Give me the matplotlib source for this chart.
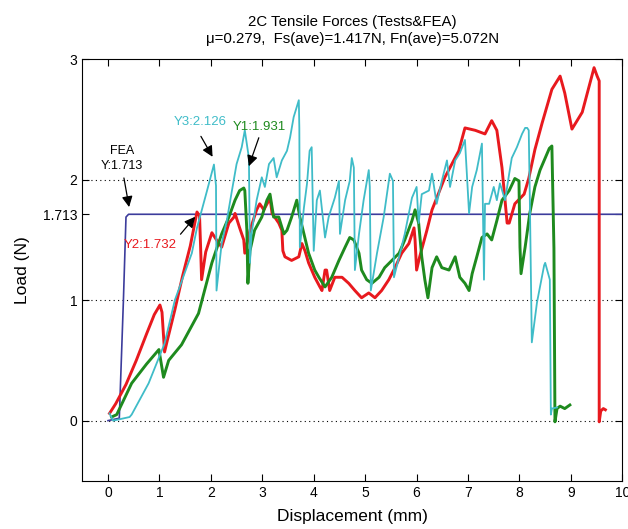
import matplotlib.pyplot as plt

plt.rcParams['font.family'] = ['Liberation Sans', 'DejaVu Sans']

# FEA prediction
fea_x = [0.0, 0.22, 0.30, 0.35, 0.40, 10.0]
fea_y = [0.0, 0.02, 1.00, 1.69, 1.713, 1.713]

# Test 2 (red)
t2_x = [0.03, 0.15, 0.35, 0.55, 0.75, 0.90, 1.01, 1.05, 1.10, 1.15, 1.30, 1.45, 1.60, 1.73,
        1.78, 1.80, 1.82, 1.90, 2.02, 2.11, 2.21, 2.35, 2.45, 2.47, 2.56, 2.64, 2.66, 2.76,
        2.89, 2.95, 3.03, 3.13, 3.15, 3.19, 3.24, 3.32, 3.38, 3.40, 3.44, 3.57, 3.71, 3.77,
        3.83, 3.90, 4.02, 4.12, 4.16, 4.22, 4.25, 4.31, 4.41, 4.55, 4.68, 4.80, 4.93, 5.07,
        5.19, 5.32, 5.46, 5.58, 5.71, 5.85, 5.95, 5.97, 6.00, 6.06, 6.20, 6.30, 6.55, 6.82,
        6.94, 7.14, 7.33, 7.46, 7.56, 7.66, 7.76, 7.80, 7.91, 8.09, 8.18, 8.30, 8.44, 8.63,
        8.79, 8.88, 9.02, 9.22, 9.45, 9.51, 9.55, 9.55, 9.58, 9.63, 9.67]
t2_y = [0.06, 0.14, 0.30, 0.50, 0.72, 0.88, 0.96, 0.90, 0.57, 0.66, 0.92, 1.20, 1.45, 1.732,
        1.70, 1.45, 1.17, 1.40, 1.56, 1.50, 1.44, 1.64, 1.69, 1.72, 1.60, 1.50, 1.39, 1.58,
        1.75, 1.80, 1.75, 1.83, 1.85, 1.72, 1.69, 1.64, 1.58, 1.41, 1.36, 1.33, 1.36, 1.47,
        1.41, 1.31, 1.19, 1.11, 1.08, 1.25, 1.25, 1.08, 1.19, 1.19, 1.14, 1.08, 1.02, 1.06,
        1.02, 1.08, 1.17, 1.27, 1.39, 1.47, 1.60, 1.50, 1.25, 1.36, 1.58, 1.75, 2.02, 2.24,
        2.43, 2.41, 2.38, 2.49, 2.41, 2.10, 1.64, 1.64, 1.80, 1.88, 2.01, 2.25, 2.47, 2.75,
        2.86, 2.72, 2.42, 2.56, 2.93, 2.86, 2.82, -0.01, 0.08, 0.10, 0.09]

# Test 1 (green)
t1_x = [0.07, 0.17, 0.46, 0.75, 0.99, 1.08, 1.18, 1.43, 1.76, 2.02, 2.21, 2.35, 2.47, 2.56,
        2.64, 2.66, 2.70, 2.72, 2.76, 2.85, 2.99, 3.09, 3.15, 3.22, 3.32, 3.42, 3.48, 3.57,
        3.67, 3.73, 3.81, 3.90, 4.02, 4.10, 4.22, 4.35, 4.49, 4.61, 4.70, 4.78, 4.88, 4.93,
        5.03, 5.13, 5.27, 5.38, 5.52, 5.66, 5.77, 5.91, 5.97, 6.04, 6.10, 6.16, 6.22, 6.30,
        6.39, 6.49, 6.63, 6.75, 6.84, 6.94, 7.02, 7.08, 7.17, 7.27, 7.37, 7.46, 7.56, 7.66,
        7.80, 7.91, 7.99, 8.01, 8.03, 8.11, 8.20, 8.30, 8.40, 8.58, 8.63, 8.67, 8.69, 8.73,
        8.79, 8.88, 8.98]
t1_y = [0.03, 0.05, 0.31, 0.47, 0.59, 0.36, 0.50, 0.63, 0.89, 1.31, 1.55, 1.69, 1.83, 1.91,
        1.931, 1.91, 1.58, 1.14, 1.41, 1.58, 1.69, 1.83, 1.88, 1.69, 1.69, 1.55, 1.58, 1.69,
        1.83, 1.69, 1.55, 1.39, 1.25, 1.19, 1.11, 1.19, 1.33, 1.44, 1.52, 1.50, 1.39, 1.25,
        1.17, 1.14, 1.19, 1.27, 1.33, 1.39, 1.50, 1.66, 1.75, 1.64, 1.36, 1.17, 1.02, 1.27,
        1.36, 1.27, 1.25, 1.36, 1.19, 1.14, 1.08, 1.22, 1.36, 1.52, 1.55, 1.50, 1.66, 1.83,
        1.91, 2.01, 1.99, 1.44, 1.22, 1.44, 1.72, 1.94, 2.08, 2.26, 2.28, 1.43, -0.01, 0.10,
        0.12, 0.10, 0.13]

# Test 3 (cyan)
t3_x = [0.03, 0.10, 0.21, 0.42, 0.46, 0.79, 1.10, 1.30, 1.63, 1.73, 1.92, 2.06, 2.10, 2.11,
        2.21, 2.31, 2.41, 2.50, 2.60, 2.66, 2.74, 2.76, 2.79, 2.89, 2.99, 3.05, 3.13, 3.22,
        3.28, 3.38, 3.48, 3.54, 3.61, 3.71, 3.72, 3.73, 3.81, 3.87, 3.92, 3.96, 4.00, 4.06,
        4.12, 4.22, 4.29, 4.41, 4.49, 4.51, 4.61, 4.70, 4.74, 4.78, 4.80, 4.88, 4.97, 5.07,
        5.09, 5.11, 5.23, 5.36, 5.48, 5.54, 5.56, 5.66, 5.77, 5.91, 6.00, 6.04, 6.10, 6.24,
        6.30, 6.39, 6.49, 6.59, 6.65, 6.75, 6.84, 6.94, 7.02, 7.08, 7.17, 7.27, 7.31, 7.33,
        7.41, 7.50, 7.56, 7.62, 7.72, 7.80, 7.85, 7.95, 8.05, 8.11, 8.15, 8.18, 8.20, 8.24,
        8.34, 8.48, 8.50, 8.59, 8.61, 8.63, 8.73]
t3_y = [0.06, 0.00, 0.01, 0.03, 0.05, 0.31, 0.64, 1.00, 1.39, 1.60, 1.90, 2.126, 1.95, 1.08,
        1.47, 1.66, 1.91, 2.13, 2.27, 2.41, 2.18, 1.31, 1.55, 1.83, 2.02, 1.94, 2.13, 2.18,
        2.02, 2.16, 2.24, 2.35, 2.52, 2.66, 2.43, 1.44, 1.77, 1.97, 2.24, 2.27, 1.41, 1.83,
        1.91, 1.52, 1.69, 1.85, 1.99, 1.55, 1.83, 1.99, 2.18, 2.10, 1.25, 1.55, 1.83, 2.08,
        1.94, 1.08, 1.39, 1.69, 2.05, 1.99, 1.19, 1.36, 1.55, 1.85, 1.94, 1.64, 1.88, 1.91,
        2.05, 1.80, 1.99, 2.16, 1.94, 2.16, 2.22, 2.33, 1.72, 1.94, 2.08, 2.30, 1.17, 1.80,
        1.80, 1.94, 1.83, 1.97, 1.83, 2.05, 2.18, 2.27, 2.38, 2.43, 2.43, 2.41, 1.88, 0.65,
        0.98, 1.29, 1.31, 1.17, 0.05, 0.10, 0.11]

x_ticks = list(range(11))
y_ticks = [0, 1, 1.713, 2, 3]
y_tick_labels = ['0', '1', '1.713', '2', '3']

fig = plt.figure(figsize=(6.28, 5.29), dpi=100)
ax = fig.add_axes([0.131, 0.091, 0.860, 0.797])

for yg in [0, 1, 2]:
    ax.axhline(yg, color='k', ls=(0, (1, 3)), lw=0.8, zorder=0)

ax.plot(fea_x, fea_y, color='#3c3c9c', lw=1.2)
ax.plot(t2_x, t2_y, color='#e8191e', lw=2.1)
ax.plot(t1_x, t1_y, color='#1e8a1e', lw=2.1)
ax.plot(t3_x, t3_y, color='#3fbcc8', lw=1.3)

arrow = dict(arrowstyle='-|>', color='k', lw=0.9, mutation_scale=16)
ax.text(0.27, 2.24, 'FEA', fontsize=9, ha='center', va='center')
ax.annotate('Y:1.713', xy=(0.42, 1.75), xytext=(0.27, 2.11), fontsize=9,
            ha='center', va='center', arrowprops=arrow)
ax.annotate('', xy=(2.06, 2.17), xytext=(1.78, 2.38), arrowprops=arrow)
ax.text(1.79, 2.48, 'Y3:2.126', fontsize=9.5, color='#3fbcc8', ha='center', va='center')
ax.annotate('', xy=(2.72, 2.09), xytext=(2.95, 2.37), arrowprops=arrow)
ax.text(2.94, 2.44, 'Y1:1.931', fontsize=9.5, color='#1e8a1e', ha='center', va='center')
ax.annotate('', xy=(1.73, 1.71), xytext=(1.375, 1.53), arrowprops=arrow)
ax.text(0.83, 1.46, 'Y2:1.732', fontsize=9.5, color='#e8191e', ha='center', va='center')

ax.set_xlim(-0.5, 10)
ax.set_ylim(-0.5, 3)
ax.set_xticks(x_ticks)
ax.set_yticks(y_ticks)
ax.set_yticklabels(y_tick_labels)
ax.tick_params(direction='in', top=True, right=True, labelsize=10, length=5)
for s in ax.spines.values():
    s.set_linewidth(0.8)

ax.set_xlabel('Displacement (mm)', fontsize=12.5, labelpad=7)
ax.set_ylabel('Load (N)', fontsize=12.5, labelpad=9)
ax.set_title('2C Tensile Forces (Tests&FEA)\nμ=0.279,  Fs(ave)=1.417N, Fn(ave)=5.072N',
             fontsize=10.8, pad=12)

fig.savefig('out.png', dpi=100)
